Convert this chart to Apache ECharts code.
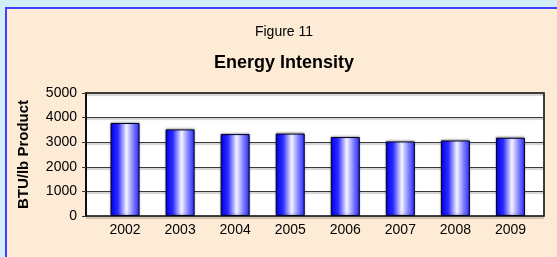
<!DOCTYPE html>
<html>
<head>
<meta charset="utf-8">
<script src="https://cdn.jsdelivr.net/npm/echarts@6/dist/echarts.min.js"></script>
<style>
  html, body { margin: 0; padding: 0; background: #d2eefb; }
  #panel {
    position: absolute; left: 5px; top: 7px; width: 550px; height: 248px;
    border-left: 2px solid #4040ff; border-top: 2px solid #4040ff;
    background: #fdebd6;
  }
  #chart { position: absolute; left: 0; top: 0; width: 557px; height: 257px; }
</style>
</head>
<body>
<div id="panel"></div>
<div id="chart"></div>
<script>
  const years = ['2002', '2003', '2004', '2005', '2006', '2007', '2008', '2009'];
  const intensity = [3780, 3520, 3330, 3350, 3210, 3030, 3070, 3180];
  const yMin = 0;
  const yMax = 5000;
  const yStep = 1000;

  const font = 'Liberation Sans, Arial, sans-serif';

  const getOption = () => {
    return {
      animation: false,
      textStyle: { fontFamily: font },
      graphic: [
        {
          type: 'text',
          style: { text: 'Figure 11', x: 284, y: 32, textAlign: 'center', textVerticalAlign: 'middle',
            font: '14px ' + font, fill: '#000' }
        },
        {
          type: 'text',
          style: { text: 'Energy Intensity', x: 284, y: 63, textAlign: 'center', textVerticalAlign: 'middle',
            font: 'bold 18px ' + font, fill: '#000' }
        }
      ],
      grid: [
        // the framed plot area
        { left: 86, top: 93, right: 13, bottom: 41, show: true, backgroundColor: '#fff',
          borderColor: '#000', borderWidth: 1.5 },
        // the bars sit a little to the right inside the frame
        { left: 97.5, top: 93, right: 19, bottom: 41 }
      ],
      xAxis: [
        { type: 'category', gridIndex: 0, data: years, show: false },
        {
          type: 'category', gridIndex: 1, data: years,
          axisLine: { show: false },
          axisTick: { show: false },
          axisLabel: { margin: 7, fontSize: 14, color: '#000', fontFamily: font }
        }
      ],
      yAxis: [
        {
          type: 'value', gridIndex: 0, min: yMin, max: yMax, interval: yStep,
          name: 'BTU/lb Product',
          nameLocation: 'middle',
          nameGap: 55,
          nameTextStyle: { fontSize: 15, fontWeight: 'bold', color: '#000', fontFamily: font },
          axisLine: { show: true, lineStyle: { color: '#000', width: 1.5 } },
          axisTick: { show: true, length: 4, lineStyle: { color: '#333' } },
          axisLabel: { margin: 9, fontSize: 14, color: '#000', fontFamily: font,
            formatter: (v) => String(v) },
          splitLine: { show: true, lineStyle: { color: '#3a3a3a', width: 1.2,
            shadowColor: 'rgba(0,0,0,0.35)', shadowOffsetY: 1.5, shadowBlur: 1 } }
        },
        { type: 'value', gridIndex: 1, min: yMin, max: yMax, interval: yStep, show: false }
      ],
      series: [
        {
          type: 'bar',
          xAxisIndex: 1,
          yAxisIndex: 1,
          data: intensity,
          barWidth: 29,
          itemStyle: {
            color: new echarts.graphic.LinearGradient(0, 0, 1, 0, [
              { offset: 0, color: '#0000f0' },
              { offset: 0.25, color: '#2a2aff' },
              { offset: 0.55, color: '#f4f4ff' },
              { offset: 0.8, color: '#7878ff' },
              { offset: 1, color: '#2828ff' }
            ]),
            borderColor: '#000022',
            borderWidth: 1,
            shadowColor: 'rgba(0,0,0,0.3)',
            shadowOffsetY: -1,
            shadowBlur: 2
          }
        }
      ]
    };
  };

  const initChart = () => {
    const chart = echarts.init(document.querySelector('#chart'), null, { renderer: 'canvas' });
    chart.setOption(getOption());
  };

  initChart();
</script>
</body>
</html>
